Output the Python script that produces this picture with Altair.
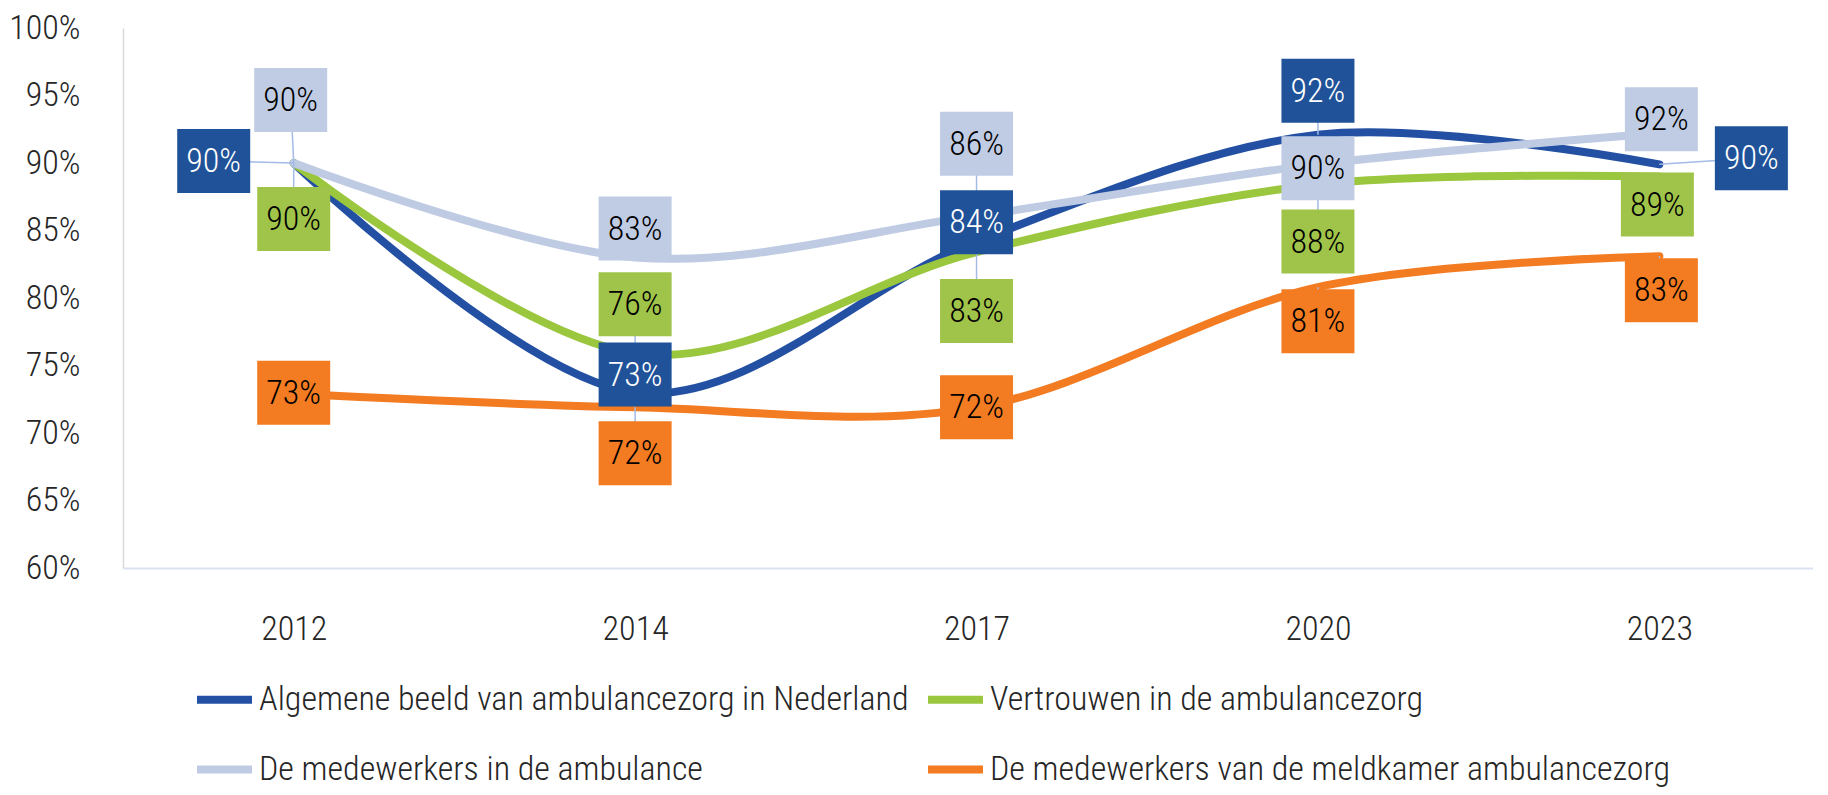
import altair as alt
import pandas as pd

# ---- data ----
YEARS = ["2012", "2014", "2017", "2020", "2023"]
SERIES = [
    "Algemene beeld van ambulancezorg in Nederland",
    "Vertrouwen in de ambulancezorg",
    "De medewerkers in de ambulance",
    "De medewerkers van de meldkamer ambulancezorg",
]
ALGEMENE = [90.0, 73.0, 84.2, 92.1, 89.9]
VERTROUWEN = [90.0, 75.9, 83.4, 88.4, 89.0]
MEDEWERKERS = [90.0, 83.0, 86.1, 89.9, 92.2]
MELDKAMER = [72.9, 71.9, 71.9, 80.8, 83.1]

# ---- styling / label layout (pixel offsets of the label boxes from their points) ----
LINE_COLORS = ["#2350A3", "#9BC73E", "#BFCBE3", "#F37B21"]
BOX_COLORS = ["#1F5299", "#A0C449", "#C0CCE4", "#F37B21"]
OFFSETS = [
    [(-80, -2), (0, -18), (0, -19), (0, -44), (92, -6)],
    [(0, 56), (0, -49), (0, 59), (0, 57), (-2, 28)],
    [(-3, -63), (0, -29), (0, -72), (0, 4), (2, -14)],
    [(0, -1), (0, 46), (0, 0), (0, 34), (2, 34)],
]
FONT = "Roboto Condensed"
FS = 34
FW = 300
W, H = 1690, 540
X_DOMAIN = [-0.5, 4.45]
Y_DOMAIN = [60, 100]
STEP_PX = W / (X_DOMAIN[1] - X_DOMAIN[0])
PX_PER_PCT = H / (Y_DOMAIN[1] - Y_DOMAIN[0])

rows = []
for s, vals, offs in zip(SERIES, [ALGEMENE, VERTROUWEN, MEDEWERKERS, MELDKAMER], OFFSETS):
    for i, v in enumerate(vals):
        dx, dy = offs[i]
        rows.append(dict(series=s, idx=i, year=YEARS[i], value=v,
                         label=f"{round(v)}%",
                         lx=i + dx / STEP_PX, ly=v - dy / PX_PER_PCT))
df = pd.DataFrame(rows)

x_scale = alt.Scale(domain=X_DOMAIN, nice=False, zero=False)
y_scale = alt.Scale(domain=Y_DOMAIN, nice=False, zero=False)

x_axis = alt.Axis(values=[0, 1, 2, 3, 4], labelExpr=f"{YEARS}[datum.value]",
                  title=None, grid=False, ticks=False, tickSize=0,
                  domainColor="#D9E1F2", domainWidth=2, labelPadding=44,
                  labelFont=FONT, labelFontSize=FS, labelFontWeight=FW, labelColor="#262626")
y_axis = alt.Axis(values=list(range(60, 101, 5)), labelExpr="datum.value + '%'",
                  title=None, grid=False, ticks=False, tickSize=0,
                  domainColor="#D9D9D9", domainWidth=1.5, labelPadding=43,
                  labelFont=FONT, labelFontSize=FS, labelFontWeight=FW, labelColor="#262626")

# legend entries fill column by column: order so rows read as in the reference
LEGEND_ORDER = [SERIES[0], SERIES[2], SERIES[1], SERIES[3]]
legend = alt.Legend(title=None, orient="none", legendX=70, legendY=640, columns=2,
                    values=LEGEND_ORDER,
                    symbolType="stroke", symbolStrokeWidth=8, symbolSize=3025,
                    labelFont=FONT, labelFontSize=FS, labelFontWeight=FW, labelColor="#262626",
                    labelLimit=0, labelOffset=3, columnPadding=3, rowPadding=21,
                    padding=0)

base = alt.Chart(df)

lines = base.mark_line(interpolate="cardinal", tension=0, strokeWidth=8, strokeCap="round").encode(
    x=alt.X("idx:Q", scale=x_scale, axis=x_axis),
    y=alt.Y("value:Q", scale=y_scale, axis=y_axis),
    color=alt.Color("series:N", scale=alt.Scale(domain=SERIES, range=LINE_COLORS),
                    sort=SERIES, legend=legend),
)

leaders = base.mark_rule(color="#A3BBE6", strokeWidth=1.5).encode(
    x="idx:Q", y="value:Q", x2="lx:Q", y2="ly:Q"
)

BOX = "M-1,-0.877L1,-0.877L1,0.877L-1,0.877Z"
boxes = base.mark_point(shape=BOX, size=73 * 73, filled=True, opacity=1, strokeWidth=0).encode(
    x="lx:Q", y="ly:Q",
    fill=alt.Fill("series:N", scale=alt.Scale(domain=SERIES, range=BOX_COLORS), legend=None),
)

texts = base.mark_text(font=FONT, fontSize=FS, fontWeight=FW, baseline="middle", align="center", dy=1).encode(
    x="lx:Q", y="ly:Q", text="label:N",
    color=alt.condition(alt.datum.series == SERIES[0], alt.value("white"), alt.value("black")),
)

chart = alt.layer(lines, leaders, boxes, texts).properties(
    width=W, height=H,
    padding={"left": 115, "top": 20, "right": 0, "bottom": 219},
    autosize="none",
).configure_view(stroke=None)

chart.save("out.html", embed_options={"renderer": "svg", "actions": False})
